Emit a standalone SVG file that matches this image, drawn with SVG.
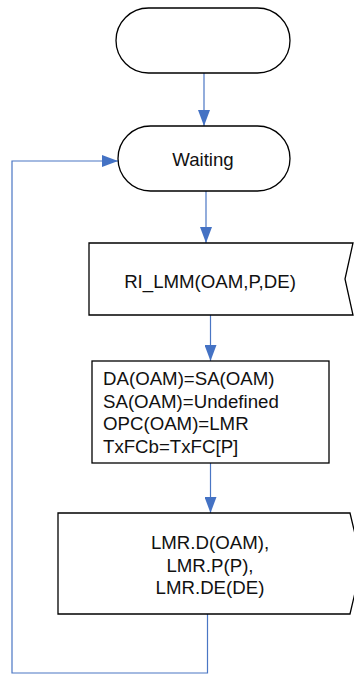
<svg xmlns="http://www.w3.org/2000/svg" width="354" height="675" viewBox="0 0 354 675">
<style>
.shape{fill:#fff;stroke:#000;stroke-width:1.3}
.conn{fill:none;stroke:#4a76c4;stroke-width:1.2}
text{font-family:"Liberation Sans",Arial,sans-serif;font-size:18.67px;fill:#111}
</style>
<defs>
<marker id="arr" viewBox="0 0 16 12" refX="16" refY="6" markerWidth="16" markerHeight="12" markerUnits="userSpaceOnUse" orient="auto">
<path d="M0,0 L16,6 L0,12 Z" fill="#4472c4"/>
</marker>
</defs>
<rect width="354" height="675" fill="#fff"/>
<g id="connectors">
<path class="conn" d="M204,73 V126" marker-end="url(#arr)"/>
<path class="conn" d="M206,191 V243" marker-end="url(#arr)"/>
<path class="conn" d="M210.5,315 V361" marker-end="url(#arr)"/>
<path class="conn" d="M210.5,463 V513" marker-end="url(#arr)"/>
<path class="conn" d="M207.5,614 V673 H12 V161 H118" marker-end="url(#arr)"/>
</g>
<g id="start">
<rect class="shape" x="116" y="8" width="174" height="65" rx="32.5" ry="32.5"/>
</g>
<g id="waiting">
<rect class="shape" x="118" y="126" width="172" height="65" rx="32.5" ry="32.5"/>
<text x="203" y="166" text-anchor="middle">Waiting</text>
</g>
<g id="ri_lmm">
<polygon class="shape" points="89,243 353,243 345,279 353,315 89,315"/>
<text x="210" y="288" text-anchor="middle">RI_LMM(OAM,P,DE)</text>
</g>
<g id="process">
<rect class="shape" x="92" y="361" width="237" height="102"/>
<text x="103" y="385">DA(OAM)=SA(OAM)</text>
<text x="103" y="408">SA(OAM)=Undefined</text>
<text x="103" y="430">OPC(OAM)=LMR</text>
<text x="103" y="453">TxFCb=TxFC[P]</text>
</g>
<g id="output">
<polygon class="shape" points="58,513 350,513 362,563 350,614 58,614"/>
<text x="210" y="549" text-anchor="middle">LMR.D(OAM),</text>
<text x="210" y="572" text-anchor="middle">LMR.P(P),</text>
<text x="210" y="594" text-anchor="middle">LMR.DE(DE)</text>
</g>
</svg>
